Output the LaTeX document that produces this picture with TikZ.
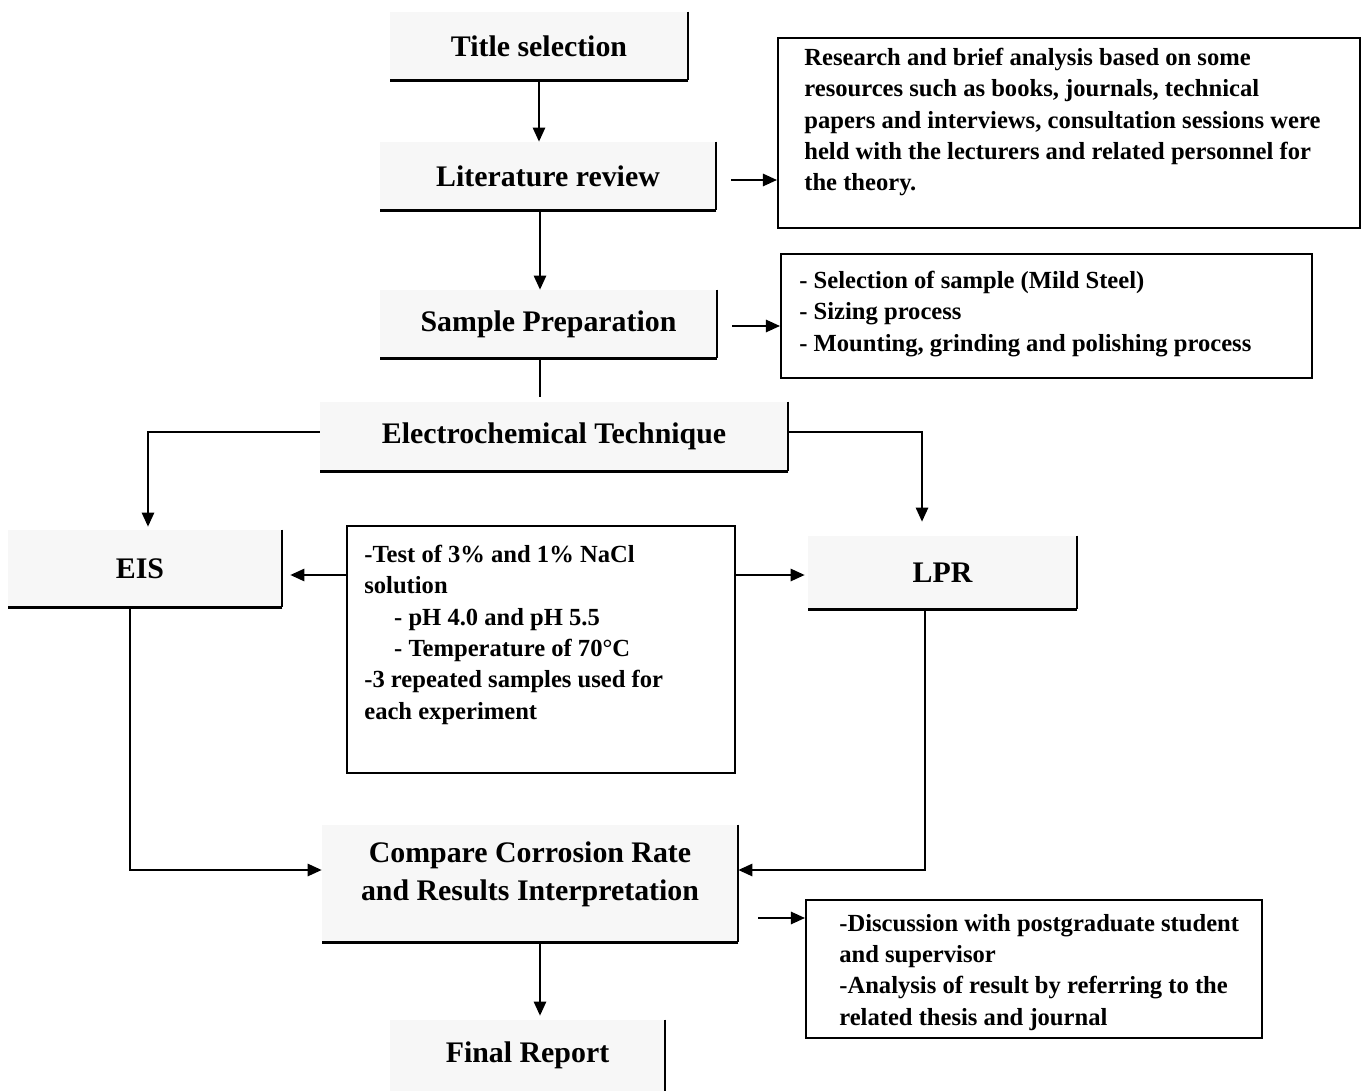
\documentclass[tikz,border=0pt]{standalone}
\usepackage{fontspec}
\setmainfont{Liberation Serif}
\usetikzlibrary{arrows.meta}
\begin{document}
\begin{tikzpicture}[x=0.02cm,y=-0.02cm,
  lbl/.style={font=\fontsize{17}{21.5}\selectfont\bfseries, fill=black!3, inner sep=0pt, align=center},
  frame/.style={draw, line width=1.2pt, inner sep=0pt},
  txt/.style={font=\fontsize{14}{17.8}\selectfont\bfseries, align=left, anchor=north west, inner sep=0pt},
  rb/.style={line width=1.3pt},
  bb/.style={line width=2pt},
  arr/.style={line width=1.1pt, -{Triangle[length=8pt,width=7pt]}},
  ln/.style={line width=1.1pt}]
\useasboundingbox (0,0) rectangle (1366,1091);

% shaded label boxes
\node[lbl, minimum width=5.96cm, minimum height=1.36cm] (title) at (539,46) {Title selection};
\node[lbl, minimum width=6.72cm, minimum height=1.36cm] (lit) at (548,176) {Literature review};
\node[lbl, minimum width=6.74cm, minimum height=1.36cm] (samp) at (548.5,324) {Sample Preparation};
\node[lbl, minimum width=9.36cm, minimum height=1.38cm] (elec) at (554,436.5) {Electrochemical Technique};
\node[lbl, minimum width=5.48cm, minimum height=1.54cm] (eis) at (145,568.5) {\hspace*{-0.2cm}EIS};
\node[lbl, minimum width=5.38cm, minimum height=1.46cm] (lpr) at (942.5,572.5) {LPR};
\node[lbl, minimum width=8.32cm, minimum height=2.34cm] (comp) at (530,883.5) {Compare Corrosion Rate\\and Results Interpretation\\[-0.25cm]\mbox{}};
\node[lbl, minimum width=5.5cm, minimum height=1.42cm] (final) at (527.5,1055.5) {Final Report};

\foreach \n in {title,lit,samp,elec,eis,lpr,comp}{
  \draw[rb] (\n.north east) -- (\n.south east);
  \draw[bb] (\n.south east) -- (\n.south west);
}
\draw[rb] (final.north east) -- (final.south east);

% framed text boxes
\node[frame, minimum width=11.64cm, minimum height=3.8cm] (research) at (1069,133) {};
\node[txt] (researchtxt) at ([xshift=0.54cm,yshift=-0.22cm]research.north west)
  {Research and brief analysis based on some\\
   resources such as books, journals, technical\\
   papers and interviews, consultation sessions were\\
   held with the lecturers and related personnel for\\
   the theory.};

\node[frame, minimum width=10.62cm, minimum height=2.48cm] (sbox) at (1046.5,316) {};
\node[txt] (sboxtxt) at ([xshift=0.38cm,yshift=-0.36cm]sbox.north west)
  {- Selection of sample (Mild Steel)\\
   - Sizing process\\
   - Mounting, grinding and polishing process};

\node[frame, minimum width=7.76cm, minimum height=4.94cm] (mid) at (541,649.5) {};
\node[txt] (midtxt) at ([xshift=0.36cm,yshift=-0.4cm]mid.north west)
  {-Test of 3\% and 1\% NaCl\\
   solution\\
   \hspace*{17pt}- pH 4.0 and pH 5.5\\
   \hspace*{17pt}- Temperature of 70°C\\
   -3 repeated samples used for\\
   each experiment};

\node[frame, minimum width=9.12cm, minimum height=2.76cm] (disc) at (1034,969) {};
\node[txt] (disctxt) at ([xshift=0.68cm,yshift=-0.3cm]disc.north west)
  {-Discussion with postgraduate student\\
   and supervisor\\
   -Analysis of result by referring to the\\
   related thesis and journal};

% connectors
\draw[arr] (title.south) -- (title.south |- lit.north);
\draw[arr] ([xshift=-0.16cm]lit.south) -- ([xshift=-0.16cm]lit.south |- samp.north);
\coordinate (a1) at ([xshift=0.3cm,yshift=-0.08cm]lit.east);
\draw[arr] (a1) -- (a1 -| research.west);
\coordinate (a2) at ([xshift=0.3cm,yshift=-0.04cm]samp.east);
\draw[arr] (a2) -- (a2 -| sbox.west);
\draw[ln] ([xshift=-0.17cm]samp.south) -- ([xshift=-0.17cm,yshift=0.1cm]samp.south |- elec.north);
\draw[arr] ([yshift=0.09cm]elec.west) -| ([xshift=0.06cm,yshift=0.06cm]eis.north);
\draw[arr] ([yshift=0.09cm]elec.east) -| ([xshift=-0.41cm,yshift=0.28cm]lpr.north);
\coordinate (m1) at ([yshift=-0.13cm]eis.east);
\draw[arr] (mid.west |- m1) -- ([xshift=0.16cm]m1);
\draw[arr] (mid.east |- m1) -- ([xshift=-0.06cm]lpr.west |- m1);
\draw[arr] ([xshift=-0.3cm]eis.south) |- ([yshift=0.27cm]comp.west);
\draw[arr] ([xshift=-0.35cm]lpr.south) |- ([yshift=0.27cm]comp.east);
\draw[arr] ([xshift=0.2cm]comp.south) -- ([xshift=0.2cm,yshift=0.08cm]comp.south |- final.north);
\coordinate (d1) at ([xshift=0.4cm,yshift=-0.69cm]comp.east);
\draw[arr] (d1) -- (d1 -| disc.west);
\end{tikzpicture}
\end{document}
